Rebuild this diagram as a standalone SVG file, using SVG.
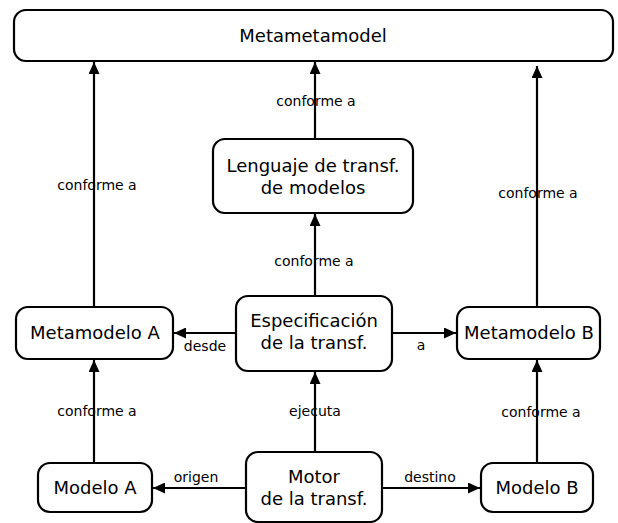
<svg xmlns="http://www.w3.org/2000/svg" width="618" height="523" viewBox="0 0 618 523">
<defs>
<marker id="ah" markerUnits="userSpaceOnUse" markerWidth="12" markerHeight="11" refX="12" refY="5.5" orient="auto">
<path d="M0,0 L12,5.5 L0,11 z" fill="#000"/>
</marker>
<style>
.box{fill:#fff;stroke:#000;stroke-width:2.2}
.nt{font-family:"DejaVu Sans",sans-serif;font-size:18px;text-anchor:middle;fill:#000}
.lt{font-family:"DejaVu Sans",sans-serif;font-size:14px;text-anchor:middle;fill:#000}
.ed{stroke:#000;stroke-width:2.2;fill:none;marker-end:url(#ah)}
</style>
</defs>
<rect width="618" height="523" fill="#fff"/>
<g id="connectors">
<line class="ed" x1="94" y1="307" x2="94" y2="62"/>
<line class="ed" x1="315" y1="139" x2="315" y2="62"/>
<line class="ed" x1="537" y1="307" x2="537" y2="66"/>
<line class="ed" x1="315" y1="296" x2="315" y2="214"/>
<line class="ed" x1="94" y1="463" x2="94" y2="360"/>
<line class="ed" x1="315" y1="452" x2="315" y2="372"/>
<line class="ed" x1="537" y1="463" x2="537" y2="360"/>
<line class="ed" x1="236" y1="333" x2="174" y2="333"/>
<line class="ed" x1="392" y1="333" x2="456" y2="333"/>
<line class="ed" x1="246" y1="488" x2="153" y2="488"/>
<line class="ed" x1="382" y1="488" x2="480" y2="488"/>
<text class="lt" x="316" y="106">conforme a</text>
<text class="lt" x="97" y="190">conforme a</text>
<text class="lt" x="538" y="198">conforme a</text>
<text class="lt" x="314" y="266">conforme a</text>
<text class="lt" x="97" y="416">conforme a</text>
<text class="lt" x="315" y="416">ejecuta</text>
<text class="lt" x="541" y="417">conforme a</text>
<text class="lt" x="205" y="351">desde</text>
<text class="lt" x="421" y="350">a</text>
<text class="lt" x="196" y="482">origen</text>
<text class="lt" x="430" y="482">destino</text>
</g>
<g id="metametamodel">
<rect class="box" x="14" y="10" width="599" height="51" rx="12"/>
<text class="nt" x="313" y="42">Metametamodel</text>
</g>
<g id="lenguaje">
<rect class="box" x="213" y="139" width="200" height="74" rx="12"/>
<text class="nt" x="313" y="172">Lenguaje de transf.</text>
<text class="nt" x="313" y="194">de modelos</text>
</g>
<g id="metamodeloA">
<rect class="box" x="16" y="307" width="157" height="52" rx="12"/>
<text class="nt" x="95" y="339">Metamodelo A</text>
</g>
<g id="especificacion">
<rect class="box" x="236" y="296" width="156" height="75" rx="12"/>
<text class="nt" x="314" y="327">Especificación</text>
<text class="nt" x="314" y="349">de la transf.</text>
</g>
<g id="metamodeloB">
<rect class="box" x="457" y="307" width="143" height="52" rx="12"/>
<text class="nt" x="529" y="339">Metamodelo B</text>
</g>
<g id="modeloA">
<rect class="box" x="38" y="463" width="114" height="49" rx="12"/>
<text class="nt" x="95" y="494">Modelo A</text>
</g>
<g id="motor">
<rect class="box" x="246" y="452" width="136" height="70" rx="12"/>
<text class="nt" x="314" y="483">Motor</text>
<text class="nt" x="314" y="505">de la transf.</text>
</g>
<g id="modeloB">
<rect class="box" x="481" y="463" width="112" height="49" rx="12"/>
<text class="nt" x="537" y="494">Modelo B</text>
</g>
</svg>
